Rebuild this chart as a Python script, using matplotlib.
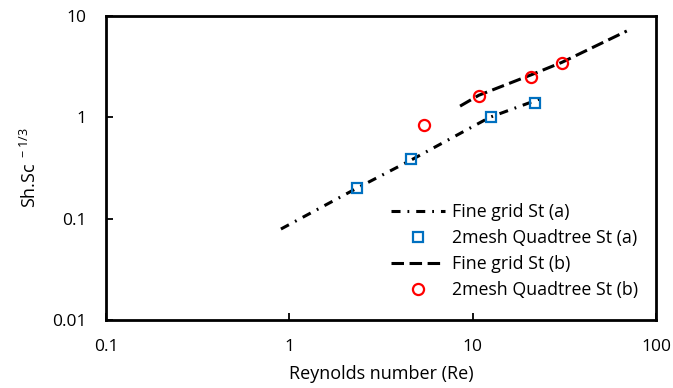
import numpy as np
import matplotlib.pyplot as plt

plt.rcParams['font.family'] = ['Open Sans', 'DejaVu Sans']
plt.rcParams['mathtext.default'] = 'regular'
plt.rcParams['lines.scale_dashes'] = False

# fine grid curves
re_fine_a = [0.9, 2.29, 4.62, 12.4, 23.3]
sh_fine_a = [0.079, 0.196, 0.379, 1.0, 1.52]
re_fine_b = [8.54, 10.8, 20.9, 30.7, 69.3]
sh_fine_b = [1.29, 1.65, 2.63, 3.49, 7.11]

# 2mesh quadtree points
re_quad_a = [2.34, 4.61, 12.6, 21.9]
sh_quad_a = [0.20, 0.387, 1.0, 1.38]
re_quad_b = [5.45, 10.8, 20.9, 30.7]
sh_quad_b = [0.84, 1.62, 2.50, 3.44]

fig = plt.figure(figsize=(6.73, 3.88), dpi=100)
ax = fig.add_axes([0.1575, 0.1753, 0.8172, 0.7835])

ax.plot(re_fine_a, sh_fine_a, color='black', lw=2.2, dashes=(6.5, 5, 1.3, 5),
        label='Fine grid St (a)')
ax.plot(re_quad_a, sh_quad_a, ls='none', marker='s', ms=7.5, mfc='none',
        mec='#0070C0', mew=1.6, label='2mesh Quadtree St (a)')
ax.plot(re_fine_b, sh_fine_b, color='black', lw=2.2, dashes=(9, 4),
        label='Fine grid St (b)')
ax.plot(re_quad_b, sh_quad_b, ls='none', marker='o', ms=8, mfc='none',
        mec='#FF0000', mew=1.6, label='2mesh Quadtree St (b)')

ax.set_xscale('log')
ax.set_yscale('log')
ax.set_xlim(0.1, 100)
ax.set_ylim(0.01, 10)
ax.set_xticks([0.1, 1, 10, 100])
ax.set_xticklabels(['0.1', '1', '10', '100'])
ax.set_yticks([0.01, 0.1, 1, 10])
ax.set_yticklabels(['0.01', '0.1', '1', '10'])
ax.minorticks_off()
ax.tick_params(direction='in', length=5, width=1.3, pad=14, labelsize=12.5)
for s in ax.spines.values():
    s.set_linewidth(2)

ax.set_xlabel('Reynolds number (Re)', fontsize=13, labelpad=7)
ax.set_ylabel(r'Sh.Sc$^{\ -1/3}$', fontsize=13, labelpad=9)

ax.legend(loc='upper left', bbox_to_anchor=(0.519, 0.385), frameon=False,
          fontsize=12.8, borderpad=0, borderaxespad=0, handlelength=3.0,
          handletextpad=0.4, labelspacing=0.45)

fig.savefig('out.png', dpi=100)
